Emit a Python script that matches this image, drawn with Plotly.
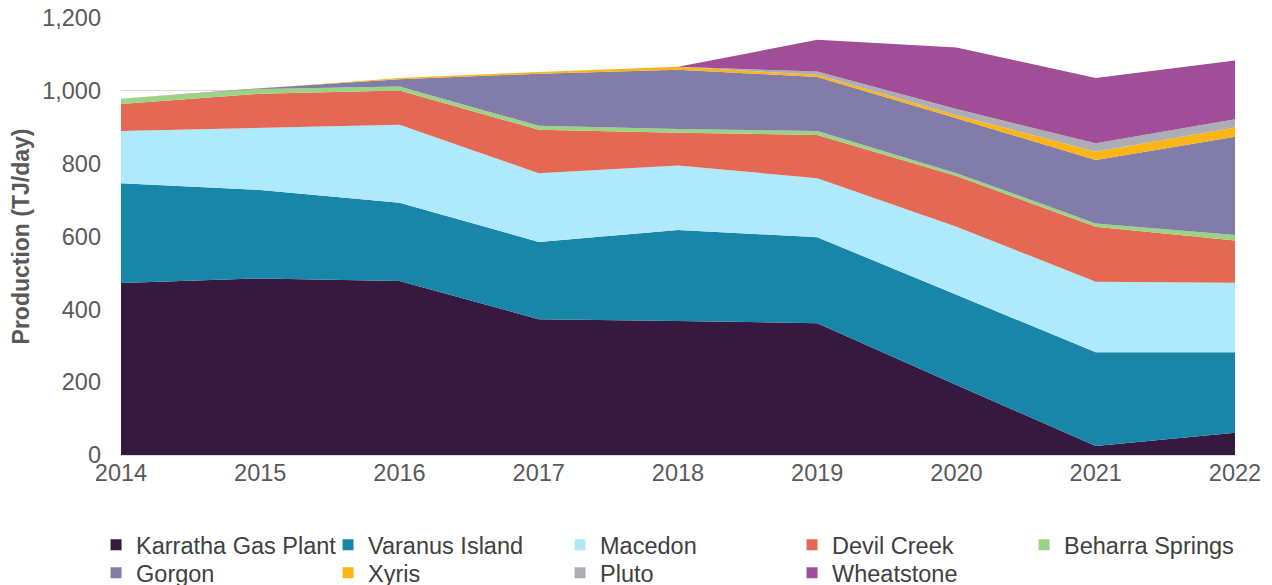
import plotly.graph_objects as go

years = [2014, 2015, 2016, 2017, 2018, 2019, 2020, 2021, 2022]
karratha = [472, 485, 478, 373, 368, 362, 192, 25, 61]
varanus = [274, 243, 215, 212, 250, 236, 248, 257, 221]
macedon = [144, 171, 214, 189, 177, 162, 187, 194, 191]
devil_creek = [74, 93, 94, 119, 90, 119, 139, 151, 116]
beharra = [14, 13, 11, 11, 10, 11, 8, 9, 15]
gorgon = [0, 2, 20, 143, 163, 148, 151, 174, 270]
xyris = [0, 0, 3, 5, 8, 6, 8, 23, 25]
pluto = [0, 0, 0, 0, 0, 9, 17, 23, 23]
wheatstone = [0, 0, 0, 0, 0, 87, 169, 179, 161]

series = [
    ("Karratha Gas Plant", karratha, "#35193e"),
    ("Varanus Island", varanus, "#1886a8"),
    ("Macedon", macedon, "#aeeafc"),
    ("Devil Creek", devil_creek, "#e46954"),
    ("Beharra Springs", beharra, "#99d485"),
    ("Gorgon", gorgon, "#827ca9"),
    ("Xyris", xyris, "#fbb515"),
    ("Pluto", pluto, "#adadb5"),
    ("Wheatstone", wheatstone, "#a04e97"),
]

fig = go.Figure()
for name, vals, color in series:
    fig.add_trace(go.Scatter(
        x=years, y=vals, name=name, mode="lines",
        stackgroup="one", line=dict(width=0, color=color),
        fillcolor=color, legendgroup=name, showlegend=False,
        hoverinfo="x+y+name",
    ))
# legend entries drawn as small squares, split over two rows (two legends)
for i, (name, vals, color) in enumerate(series):
    fig.add_trace(go.Scatter(
        x=[None], y=[None], name=name, mode="markers",
        marker=dict(symbol="square", size=11, color=color),
        legendgroup=name, showlegend=True,
        legend="legend" if i < 5 else "legend2",
    ))

font_family = "Liberation Sans, Arial, sans-serif"
legend_common = dict(
    orientation="h", xanchor="left", yanchor="top",
    entrywidth=187, entrywidthmode="pixels", itemwidth=30,
    font=dict(size=23.5, color="#404040"), traceorder="normal",
    tracegroupgap=0, bgcolor="rgba(0,0,0,0)",
)
fig.update_layout(
    width=1264, height=577,
    margin=dict(l=113, r=37, t=10, b=130, autoexpand=False),
    paper_bgcolor="white", plot_bgcolor="white",
    font=dict(family=font_family, size=23, color="#595959"),
    showlegend=True,
    legend=dict(x=-0.0224, y=-0.1556, **legend_common),
    legend2=dict(x=-0.0224, y=-0.2197, **legend_common),
    xaxis=dict(
        range=[2014, 2022], tickmode="array", tickvals=years,
        ticktext=[str(y) for y in years], showgrid=False,
        showline=True, linecolor="#d9d9d9", linewidth=1,
        ticks="", zeroline=False, automargin=False, ticklabelstandoff=-3,
        tickfont=dict(size=23.5, color="#595959"),
    ),
    yaxis=dict(
        range=[0, 1200], dtick=200, tickformat=",", showgrid=True,
        gridcolor="#d9d9d9", gridwidth=1, zeroline=False, showline=False,
        ticks="", automargin=False, ticklabelstandoff=19,
        ticklabeloverflow="allow",
        tickfont=dict(size=23.5, color="#595959"),
        title=dict(text="<b>Production (TJ/day)</b>",
                   font=dict(size=23, color="#595959"), standoff=10),
    ),
)

fig.write_html("out.html")
